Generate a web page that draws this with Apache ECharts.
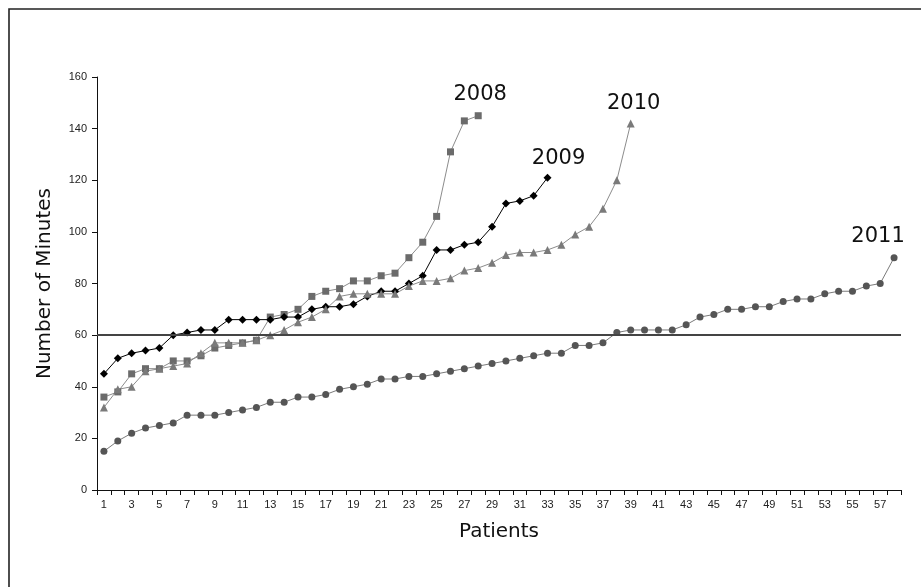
<!DOCTYPE html>
<html>
<head>
<meta charset="utf-8">
<script src="https://cdn.jsdelivr.net/npm/echarts@6/dist/echarts.min.js"></script>
<style>
html,body{margin:0;padding:0;background:#fff;}
#chart{width:921px;height:587px;}
</style>
</head>
<body>
<div id="chart"></div>
<script>
var patients = [];
for (var i = 1; i <= 58; i++) patients.push(String(i));

var s2008 = [36,38,45,47,47,50,50,52,55,56,57,58,67,68,70,75,77,78,81,81,83,84,90,96,106,131,143,145];
var s2009 = [45,51,53,54,55,60,61,62,62,66,66,66,66,67,67,70,71,71,72,75,77,77,80,83,93,93,95,96,102,111,112,114,121];
var s2010 = [32,39,40,46,47,48,49,53,57,57,57,58,60,62,65,67,70,75,76,76,76,76,79,81,81,82,85,86,88,91,92,92,93,95,99,102,109,120,142];
var s2011 = [15,19,22,24,25,26,29,29,29,30,31,32,34,34,36,36,37,39,40,41,43,43,44,44,45,46,47,48,49,50,51,52,53,53,56,56,57,61,62,62,62,62,64,67,68,70,70,71,71,73,74,74,76,77,77,79,80,90];
var yTicks = [0,20,40,60,80,100,120,140,160];
var threshold = 60;

var labelFont = 'DejaVu Sans';

function withEndLabel(arr, name, off) {
  return arr.map(function (v, i) {
    if (i === arr.length - 1) {
      return {
        value: v,
        label: {
          show: true, position: 'top', offset: off,
          formatter: name, fontFamily: labelFont, fontSize: 21, color: '#111'
        }
      };
    }
    return v;
  });
}

var chart = echarts.init(document.getElementById('chart'));
chart.setOption({
  backgroundColor: '#fff',
  animation: false,
  grid: { left: 97, right: 20, top: 77, bottom: 97 },
  graphic: [{
    type: 'polyline',
    shape: { points: [[9, 587], [9, 9], [921, 9]] },
    style: { stroke: '#222', lineWidth: 1.6, fill: null }
  }],
  xAxis: {
    type: 'category',
    data: patients,
    boundaryGap: true,
    name: 'Patients',
    nameLocation: 'middle',
    nameGap: 32,
    nameTextStyle: { fontFamily: labelFont, fontSize: 20, color: '#111' },
    axisLine: { lineStyle: { color: '#111', width: 1 } },
    axisTick: { show: true, length: 5, interval: 0, lineStyle: { color: '#111' } },
    axisLabel: { interval: 1, fontFamily: 'Liberation Sans', fontSize: 11, color: '#222', margin: 9 },
    splitLine: { show: false }
  },
  yAxis: {
    type: 'value',
    min: yTicks[0],
    max: yTicks[yTicks.length - 1],
    interval: 20,
    name: 'Number of Minutes',
    nameLocation: 'middle',
    nameGap: 42,
    nameTextStyle: { fontFamily: labelFont, fontSize: 20, color: '#111' },
    axisLine: { show: true, lineStyle: { color: '#111', width: 1 } },
    axisTick: { show: true, length: 5, lineStyle: { color: '#111' } },
    axisLabel: { fontFamily: 'Liberation Sans', fontSize: 11, color: '#222', margin: 10 },
    splitLine: { show: false }
  },
  series: [
    {
      name: '2008', type: 'line', data: withEndLabel(s2008, '2008', [2, -2]),
      symbol: 'rect', symbolSize: 7,
      itemStyle: { color: '#6b6b6b' },
      lineStyle: { color: '#8c8c8c', width: 1 }
    },
    {
      name: '2009', type: 'line', data: withEndLabel(s2009, '2009', [11, 0]),
      symbol: 'diamond', symbolSize: 8,
      itemStyle: { color: '#000' },
      lineStyle: { color: '#000', width: 1 }
    },
    {
      name: '2010', type: 'line', data: withEndLabel(s2010, '2010', [3, 0]),
      symbol: 'triangle', symbolSize: 8,
      itemStyle: { color: '#7a7a7a' },
      lineStyle: { color: '#8c8c8c', width: 1 }
    },
    {
      name: '2011', type: 'line', data: withEndLabel(s2011, '2011', [-16, -2]),
      symbol: 'circle', symbolSize: 7,
      itemStyle: { color: '#555' },
      lineStyle: { color: '#7a7a7a', width: 1 },
      markLine: {
        silent: true, symbol: 'none',
        label: { show: false },
        lineStyle: { color: '#444', width: 2, type: 'solid' },
        data: [{ yAxis: threshold }]
      }
    }
  ]
});
</script>
</body>
</html>
